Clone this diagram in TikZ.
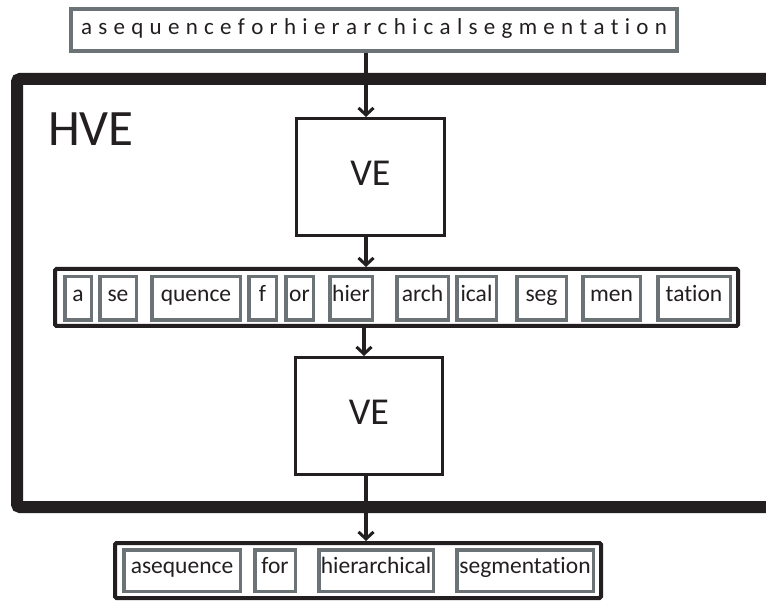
\documentclass[tikz,border=0pt]{standalone}
\usepackage{fontspec}
\setmainfont{Carlito}[Ligatures=NoCommon]
\usetikzlibrary{arrows.meta}
\definecolor{ink}{HTML}{231F20}
\definecolor{boxgray}{HTML}{6C7376}
\tikzset{
  arr/.style={draw=ink, line width=3.2pt, -{Straight Barb[length=7pt,width=15pt,line width=3pt]}},
  seg/.style={draw=boxgray, line width=3.5pt, inner sep=0pt, minimum height=43.5pt,
    text height=12pt, text depth=5pt, font=\fontsize{23.5}{28}\selectfont, text=ink},
  rowbox/.style={draw=ink, line width=4pt, rounded corners=1.5pt, inner sep=0pt},
  vebox/.style={draw=ink, line width=3pt, inner sep=0pt, minimum width=148pt, minimum height=117pt,
    text height=24pt, text depth=6pt, font=\fontsize{38}{45}\selectfont, text=ink},
}
\begin{document}
\begin{tikzpicture}[x=1pt,y=-1pt]
\useasboundingbox (0,0) rectangle (766,601);
\fill[white] (0,0) rectangle (766,601);
% HVE frame
\draw[ink, line width=12pt, rounded corners=3pt] (780,79) -- (17,79) -- (17,507) -- (780,507);
\node[anchor=base west, inner sep=0pt, text=ink, font=\fontsize{51}{60}\selectfont] (hve) at (48,146) {HVE};
% top input
\node[draw=boxgray, line width=3.5pt, inner sep=0pt, minimum width=606pt, minimum height=42pt,
  text height=14pt, text depth=4pt, font=\fontsize{23}{27}\selectfont, text=ink] (top) at (374,30)
  {\makebox[586pt][s]{a\hfil s\hfil e\hfil q\hfil u\hfil e\hfil n\hfil c\hfil e\hfil f\hfil o\hfil r\hfil h\hfil i\hfil e\hfil r\hfil a\hfil r\hfil c\hfil h\hfil i\hfil c\hfil a\hfil l\hfil s\hfil e\hfil g\hfil m\hfil e\hfil n\hfil t\hfil a\hfil t\hfil i\hfil o\hfil n}};
% VE boxes
\node[vebox] (ve1) at (370.5,177) {VE};
\node[vebox, minimum width=147pt] (ve2) at (369,416) {VE};
% segment row
\node[rowbox, minimum width=683pt, minimum height=57pt] (row) at (396.5,297.5) {};
\node[seg, minimum width=26.5pt] (s1) at (78,298.5) {a};
\node[seg, minimum width=36.5pt] (s2) at (118,298.5) {se};
\node[seg, minimum width=88.5pt] (s3) at (196,298.5) {quence};
\node[seg, minimum width=27.5pt] (s4) at (262.5,298.5) {f};
\node[seg, minimum width=27.5pt] (s5) at (299.5,298.5) {or};
\node[seg, minimum width=42.5pt] (s6) at (351,298.5) {hier};
\node[seg, minimum width=51.5pt] (s7) at (422.5,298.5) {arch};
\node[seg, minimum width=39.5pt] (s8) at (476.5,298.5) {ical};
\node[seg, minimum width=49.5pt] (s9) at (541.5,298.5) {seg};
\node[seg, minimum width=57.5pt] (s10) at (611.5,298.5) {men};
\node[seg, minimum width=72.5pt] (s11) at (694,298.5) {tation};
% output row
\node[rowbox, minimum width=486pt, minimum height=55pt] (out) at (358,570.5) {};
\node[seg, minimum width=116.5pt, minimum height=41.5pt, text height=11pt, text depth=6pt] (w1) at (182,570.5) {asequence};
\node[seg, minimum width=40.5pt, minimum height=41.5pt, text height=11pt, text depth=6pt] (w2) at (275,570.5) {for};
\node[seg, minimum width=114.5pt, minimum height=41.5pt, text height=11pt, text depth=6pt] (w3) at (376,570.5) {hierarchical};
\node[seg, minimum width=136.5pt, minimum height=41.5pt, text height=11pt, text depth=6pt] (w4) at (525,570.5) {segmentation};
% arrows
\coordinate (ax) at (366,0);
\coordinate (bx) at (364,0);
\draw[arr] (top.south -| ax) -- (ve1.north -| ax);
\draw[arr] (ve1.south -| ax) -- (row.north -| ax);
\draw[arr] (row.south -| bx) -- (ve2.north -| bx);
\draw[arr] (ve2.south -| ax) -- (out.north -| ax);
\end{tikzpicture}
\end{document}
